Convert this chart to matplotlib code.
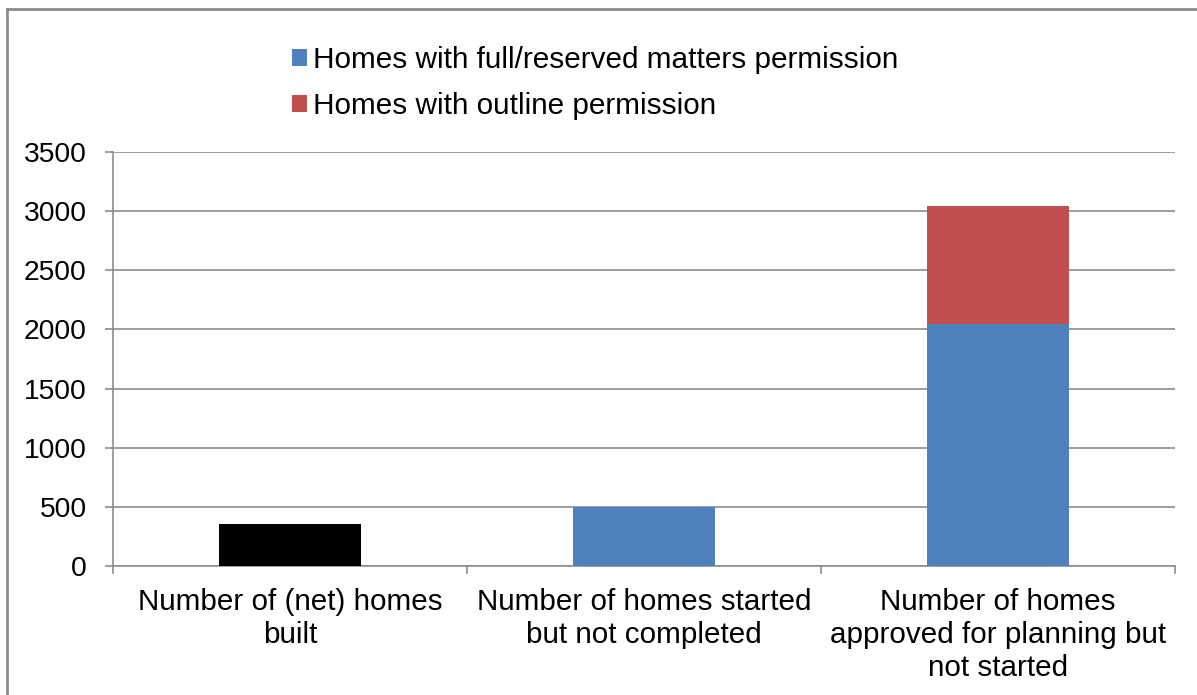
import matplotlib
matplotlib.use("Agg")
import matplotlib.pyplot as plt
from matplotlib.patches import Patch
from matplotlib.lines import Line2D

plt.rcParams['font.family'] = ['Liberation Sans', 'DejaVu Sans']

categories = ["Number of (net) homes\nbuilt",
              "Number of homes started\nbut not completed",
              "Number of homes\napproved for planning but\nnot started"]
built = [355, 0, 0]
full_permission = [0, 500, 2050]
outline_permission = [0, 0, 990]
yticks = [0, 500, 1000, 1500, 2000, 2500, 3000, 3500]
legend_labels = ["Homes with full/reserved matters permission",
                 "Homes with outline permission"]

BLUE = "#4F81BD"
RED = "#C0504D"
GRID = "#8C8C8C"

fig = plt.figure(figsize=(11.97, 6.95), dpi=100)
ax = fig.add_axes([113/1197, 1-566/695, (1175-113)/1197, (566-152)/695])

x = list(range(len(categories)))
w = 0.4
ax.bar(x[0], built[0], width=w, color="black", zorder=3)
ax.bar(x[1:], full_permission[1:], width=w, color=BLUE, zorder=3)
ax.bar(x[2], outline_permission[2], bottom=full_permission[2], width=w, color=RED, zorder=3)

ax.set_xlim(-0.5, 2.5)
ax.set_ylim(0, 3500)
ax.set_yticks(yticks)
ax.set_yticklabels([str(v) for v in yticks], fontsize=20.3)
ax.yaxis.grid(True, color=GRID, linewidth=1.2, zorder=0)
ax.set_axisbelow(True)

ax.set_xticks(x)
ax.set_xticklabels(categories, fontsize=21.3, linespacing=1.22)
ax.tick_params(axis='x', which='major', length=0, pad=16)
ax.set_xticks([-0.5, 0.5, 1.5, 2.5], minor=True)
ax.tick_params(axis='x', which='minor', length=6, color=GRID, width=1.2, direction='out')
ax.tick_params(axis='y', length=6, color=GRID, width=1.2, direction='out', pad=13)

for s in ['top', 'right']:
    ax.spines[s].set_visible(False)
for s in ['left', 'bottom']:
    ax.spines[s].set_color(GRID)
    ax.spines[s].set_linewidth(1.2)

handles = [Patch(facecolor=BLUE), Patch(facecolor=RED)]
fig.legend(handles, legend_labels, loc='upper left', bbox_to_anchor=(265/1197, 1-19/695),
           frameon=False, fontsize=21.4, handlelength=0.5, handleheight=0.5,
           handletextpad=0.2, labelspacing=0.6)

# outer border (top and left visible)
fig.add_artist(Line2D([7/1197, 1.0], [1-8.5/695, 1-8.5/695], transform=fig.transFigure, color="#8C8C8C", linewidth=2))
fig.add_artist(Line2D([7/1197, 7/1197], [0, 1-8.5/695], transform=fig.transFigure, color="#8C8C8C", linewidth=2))

fig.savefig("out.png", dpi=100)
